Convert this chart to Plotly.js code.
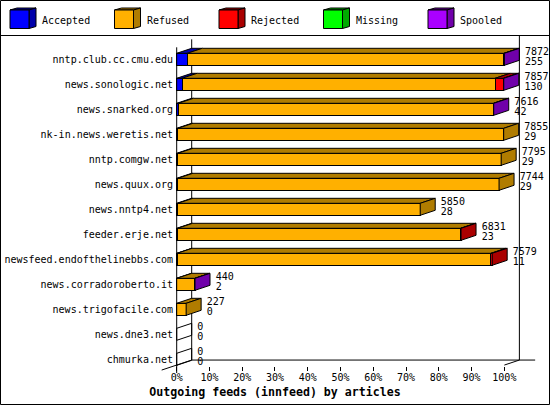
<!DOCTYPE html>
<html>
<head>
<meta charset="utf-8">
<script src="https://cdn.plot.ly/plotly-3.0.1.min.js"></script>
<style>
  html, body { margin: 0; padding: 0; background: #fff; }
  #chart { width: 550px; height: 405px; }
</style>
</head>
<body>
<div id="chart"></div>
<script>
// feeds, top to bottom
var hosts = ['nntp.club.cc.cmu.edu', 'news.sonologic.net', 'news.snarked.org',
    'nk-in.news.weretis.net', 'nntp.comgw.net', 'news.quux.org', 'news.nntp4.net',
    'feeder.erje.net', 'newsfeed.endofthelinebbs.com', 'news.corradoroberto.it',
    'news.trigofacile.com', 'news.dne3.net', 'chmurka.net'];

// articles per feed (offered is the first number at the bar end, accepted the second)
var offered  = [7872, 7857, 7616, 7855, 7795, 7744, 5850, 6831, 7579, 440, 227, 0, 0];
var accepted = [255, 130, 42, 29, 29, 29, 28, 23, 11, 2, 0, 0, 0];
var refused  = [7607, 7519, 7569, 7826, 7766, 7715, 5822, 6798, 7538, 435, 227, 0, 0];
var rejected = [0, 200, 0, 0, 0, 0, 0, 10, 30, 0, 0, 0, 0];
var missing  = [0, 0, 0, 0, 0, 0, 0, 0, 0, 0, 0, 0, 0];
var spooled  = [10, 8, 5, 0, 0, 0, 0, 0, 0, 3, 0, 0, 0];

var seriesNames = ['Accepted', 'Refused', 'Rejected', 'Missing', 'Spooled'];
var seriesData = [accepted, refused, rejected, missing, spooled];
var faceColors = ['#0000ff', '#ffb000', '#ff0000', '#00ff00', '#aa00ff'];
var darkColors = ['#0000aa', '#b07c00', '#aa0000', '#00aa00', '#7000aa'];

var tickVals = [0, 10, 20, 30, 40, 50, 60, 70, 80, 90, 100];

// geometry of the fake 3d (in axis units)
var DX = 4.58;   // depth along x, percent
var DY = 0.2;    // depth along y, categories
var HB = 0.24;   // half bar height
var xr = [-0.82, 112.4];
var yr = [12.268, -0.972];
var M = {l: 174, r: 5, t: 35, b: 39};
var PW = 550 - M.l - M.r, PH = 405 - M.t - M.b;
var mono = 'DejaVu Sans Mono, monospace';

function px2paperX(p) { return (p - M.l) / PW; }
function px2paperY(p) { return (405 - M.b - p) / PH; }
function d2paperX(v) { return (v - xr[0]) / (xr[1] - xr[0]); }
function d2paperY(v) { return (yr[0] - v) / (yr[0] - yr[1]); }

var maxOff = Math.max.apply(null, offered);
function pct(v) { return v * 100 / maxOff; }

var idx = hosts.map(function(h, i) { return i; });
var traces = [];

// front faces: stacked horizontal bars
seriesData.forEach(function(arr, s) {
    traces.push({
        type: 'bar', orientation: 'h', name: seriesNames[s],
        x: arr.map(function(v) { return v ? pct(v) : null; }),
        y: idx, width: 2 * HB,
        marker: {color: faceColors[s], line: {color: '#000', width: 1}},
        hoverinfo: 'skip'
    });
});

// top and side faces
var tops = seriesData.map(function() { return {x: [], y: []}; });
var sides = seriesData.map(function() { return {x: [], y: []}; });
var empty = {x: [], y: []};
idx.forEach(function(i) {
    var start = 0, last = -1, end = 0;
    seriesData.forEach(function(arr, s) {
        if (!arr[i]) return;
        var x0 = start, x1 = start + pct(arr[i]);
        var yt = i - HB;
        tops[s].x.push(x0, x1, x1 + DX, x0 + DX, x0, null);
        tops[s].y.push(yt, yt, yt - DY, yt - DY, yt, null);
        start = x1; last = s; end = x1;
    });
    var target = last >= 0 ? sides[last] : empty;
    target.x.push(end, end + DX, end + DX, end, end, null);
    target.y.push(i - HB, i - HB - DY, i + HB - DY, i + HB, i - HB, null);
});
seriesData.forEach(function(arr, s) {
    [tops[s], sides[s]].forEach(function(f) {
        if (!f.x.length) return;
        traces.push({
            type: 'scatter', mode: 'lines', x: f.x, y: f.y,
            fill: 'toself', fillcolor: darkColors[s],
            line: {color: '#000', width: 1}, hoverinfo: 'skip'
        });
    });
});
traces.push({
    type: 'scatter', mode: 'lines', x: empty.x, y: empty.y,
    line: {color: '#000', width: 1}, hoverinfo: 'skip'
});

// numbers at the end of each bar
var LX = 6.3;
traces.push({
    type: 'scatter', mode: 'text', cliponaxis: false,
    x: offered.map(function(v) { return pct(v) + LX; }),
    y: idx.map(function(i) { return i - 0.29; }),
    text: offered.map(String), textposition: 'middle right',
    textfont: {family: mono, size: 10, color: '#000'}, hoverinfo: 'skip'
});
traces.push({
    type: 'scatter', mode: 'text', cliponaxis: false,
    x: offered.map(function(v) { return pct(v) + LX; }),
    y: idx.map(function(i) { return i + 0.14; }),
    text: accepted.map(String), textposition: 'middle right',
    textfont: {family: mono, size: 10, color: '#000'}, hoverinfo: 'skip'
});

var black = {color: '#000', width: 1};
var shapes = [
    // frame of the 3d box
    {type: 'line', xref: 'x', yref: 'y', x0: DX, x1: DX, y0: -0.8, y1: 12.03, line: black, layer: 'below'},
    {type: 'line', xref: 'x', yref: 'y', x0: 0, x1: 0, y0: -0.48, y1: 12.268, line: black},
    {type: 'line', xref: 'x', yref: 'y', x0: DX, x1: 109.4, y0: 12.03, y1: 12.03, line: black},
    {type: 'line', xref: 'x', yref: 'y', x0: 100 + DX, x1: 100 + DX, y0: yr[1], y1: 12.03, line: black},
    {type: 'line', xref: 'x', yref: 'y', x0: 100, x1: 100 + DX, y0: 12.23, y1: 12.03, line: black},
    {type: 'line', xref: 'paper', yref: 'paper', x0: d2paperX(-DX), x1: d2paperX(DX),
        y0: d2paperY(12.43), y1: d2paperY(12.03), line: black},
    {type: 'line', xref: 'paper', yref: 'paper', x0: d2paperX(0), x1: d2paperX(0),
        y0: d2paperY(12.23), y1: px2paperY(373), line: black},
    // picture border and legend separator
    {type: 'rect', xref: 'paper', yref: 'paper', x0: px2paperX(0.5), x1: px2paperX(549.5),
        y0: px2paperY(0.5), y1: px2paperY(404.5), line: black},
    {type: 'line', xref: 'paper', yref: 'paper', x0: px2paperX(0.5), x1: px2paperX(549.5),
        y0: px2paperY(35.5), y1: px2paperY(35.5), line: black}
];

// legend with little cubes
var annotations = [];
seriesNames.forEach(function(name, s) {
    var fx0 = 10 + 104.5 * s, fx1 = fx0 + 19, fy0 = 10, fy1 = 28.5, dx = 7, dy = 2;
    function P(a, b) { return px2paperX(a) + ',' + px2paperY(b); }
    shapes.push({type: 'path', xref: 'paper', yref: 'paper', fillcolor: darkColors[s], line: black,
        path: 'M' + P(fx0, fy0) + 'L' + P(fx0 + dx, fy0 - dy) + 'L' + P(fx1 + dx, fy0 - dy) + 'L' + P(fx1, fy0) + 'Z'});
    shapes.push({type: 'path', xref: 'paper', yref: 'paper', fillcolor: darkColors[s], line: black,
        path: 'M' + P(fx1, fy0) + 'L' + P(fx1 + dx, fy0 - dy) + 'L' + P(fx1 + dx, fy1 - dy) + 'L' + P(fx1, fy1) + 'Z'});
    shapes.push({type: 'rect', xref: 'paper', yref: 'paper', fillcolor: faceColors[s], line: black,
        x0: px2paperX(fx0), x1: px2paperX(fx1), y0: px2paperY(fy0), y1: px2paperY(fy1)});
    annotations.push({
        xref: 'paper', yref: 'paper', x: px2paperX(fx0 + 30), y: px2paperY(20),
        xanchor: 'left', yanchor: 'middle', showarrow: false, text: name,
        font: {family: mono, size: 10, color: '#000'}
    });
});

var layout = {
    width: 550, height: 405,
    margin: M,
    paper_bgcolor: '#fff', plot_bgcolor: '#fff',
    barmode: 'stack', bargap: 0,
    showlegend: false,
    title: {
        text: 'Outgoing feeds (innfeed) by articles',
        font: {family: mono, size: 11.6, color: '#000', weight: 'bold'},
        xref: 'container', x: 0.5, xanchor: 'center',
        yref: 'container', y: 0.033, yanchor: 'middle'
    },
    xaxis: {
        range: xr, showgrid: false, zeroline: false, showline: false,
        tickmode: 'array', tickvals: tickVals,
        ticktext: tickVals.map(function(v) { return v + '%'; }),
        ticks: 'outside', ticklen: 4, tickcolor: '#000', tickwidth: 1,
        ticklabelstandoff: -2,
        tickfont: {family: mono, size: 10, color: '#000'}, fixedrange: true
    },
    yaxis: {
        range: yr, showgrid: false, zeroline: false, showline: false,
        tickmode: 'array', tickvals: idx, ticktext: hosts,
        ticks: '', tickfont: {family: mono, size: 10, color: '#000'}, fixedrange: true
    },
    shapes: shapes,
    annotations: annotations
};

Plotly.newPlot('chart', traces, layout, {displayModeBar: false, staticPlot: true});
</script>
</body>
</html>
